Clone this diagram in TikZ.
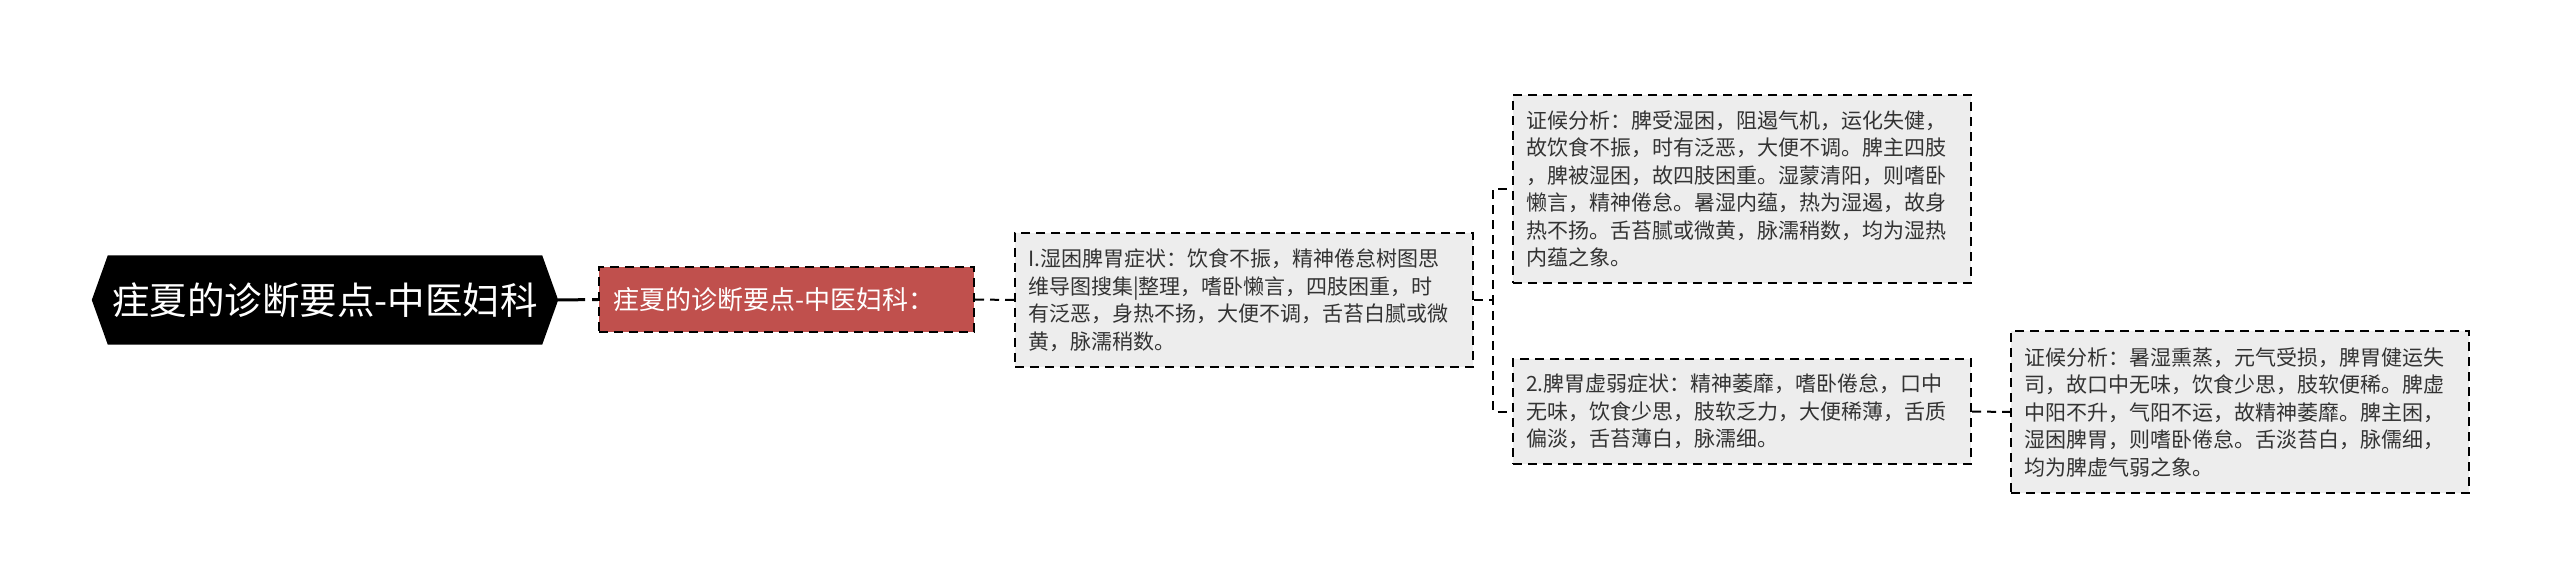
\documentclass[tikz,border=0pt]{standalone}
\usepackage{fontspec}
\setmainfont{Noto Sans CJK SC}
\usetikzlibrary{backgrounds}
\definecolor{boxgray}{HTML}{EDEDED}
\definecolor{txtgray}{HTML}{333333}
\definecolor{redfill}{HTML}{C0504D}
\tikzset{
  rootnode/.style={minimum width=466pt, minimum height=89pt, inner sep=0pt, text=white, font=\fontsize{37.5}{40}\selectfont},
  rednode/.style={draw=black, fill=redfill, line width=2pt, dash pattern=on 9pt off 6pt, anchor=west, minimum width=375pt, minimum height=65pt, inner xsep=14pt, text width=347pt, align=left, text=white, font=\fontsize{26}{30}\selectfont},
  infobox/.style={draw=black, fill=boxgray, line width=2pt, dash pattern=on 9pt off 6pt, anchor=north west, inner xsep=13pt, inner ysep=0pt, text width=432pt, align=left, text=txtgray, font=\fontsize{21}{27.5}\selectfont},
  link/.style={draw=black, line width=2pt, dash pattern=on 9pt off 6pt},
  rootlink/.style={draw=black, line width=3pt, dash pattern=on 27pt off 7pt}
}
\begin{document}
\begin{tikzpicture}[x=1pt,y=-1pt]
\useasboundingbox (0,0) rectangle (2560,585);
\node[rootnode] (root) at (325,300) {疰夏的诊断要点-中医妇科};
\begin{scope}[on background layer]
\fill[black] (root.west) -- ([xshift=16pt]root.north west) -- ([xshift=-16pt]root.north east) -- (root.east) -- ([xshift=-16pt]root.south east) -- ([xshift=16pt]root.south west) -- cycle;
\end{scope}
\node[rednode] (red) at (598,299.5) {疰夏的诊断要点-中医妇科：};
\node[infobox, minimum height=134pt] (b1) at (1014,232) {I.湿困脾胃症状：饮食不振，精神倦怠树图思\\维导图搜集|整理，嗜卧懒言，四肢困重，时\\有泛恶，身热不扬，大便不调，舌苔白腻或微\\黄，脉濡稍数。};
\node[infobox, minimum height=188pt] (tr) at (1512,94) {证候分析：脾受湿困，阻遏气机，运化失健，\\故饮食不振，时有泛恶，大便不调。脾主四肢\\，脾被湿困，故四肢困重。湿蒙清阳，则嗜卧\\懒言，精神倦怠。暑湿内蕴，热为湿遏，故身\\热不扬。舌苔腻或微黄，脉濡稍数，均为湿热\\内蕴之象。};
\node[infobox, minimum height=105pt] (b2) at (1512,358) {2.脾胃虚弱症状：精神萎靡，嗜卧倦怠，口中\\无味，饮食少思，肢软乏力，大便稀薄，舌质\\偏淡，舌苔薄白，脉濡细。};
\node[infobox, minimum height=162pt] (fr) at (2010,330) {证候分析：暑湿熏蒸，元气受损，脾胃健运失\\司，故口中无味，饮食少思，肢软便稀。脾虚\\中阳不升，气阳不运，故精神萎靡。脾主困，\\湿困脾胃，则嗜卧倦怠。舌淡苔白，脉儒细，\\均为脾虚气弱之象。};
\draw[rootlink] (root.east) -- (red.west);
\draw[link] (red.east) -- (b1.west);
\draw[link] (b1.east) -- ++(19,0) |- (tr.west);
\draw[link] (b1.east) -- ++(19,0) |- (b2.west);
\draw[link] (b2.east) -- (fr.west);
\end{tikzpicture}
\end{document}
